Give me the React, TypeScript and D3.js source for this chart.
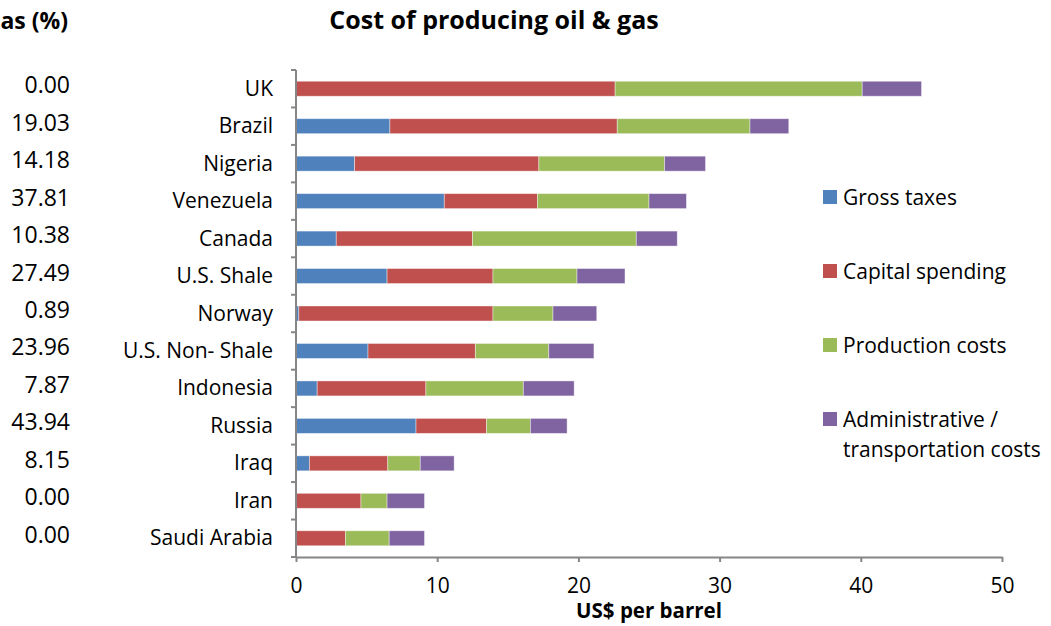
import React, { useEffect, useRef } from 'react';
import * as d3 from 'd3';

const width = 1051;
const height = 626;

const countries = [
  'UK',
  'Brazil',
  'Nigeria',
  'Venezuela',
  'Canada',
  'U.S. Shale',
  'Norway',
  'U.S. Non- Shale',
  'Indonesia',
  'Russia',
  'Iraq',
  'Iran',
  'Saudi Arabia',
];
const taxShare = [0.0, 19.03, 14.18, 37.81, 10.38, 27.49, 0.89, 23.96, 7.87, 43.94, 8.15, 0.0, 0.0];

const grossTaxes = [0, 6.65, 4.15, 10.5, 2.85, 6.45, 0.2, 5.1, 1.5, 8.5, 0.95, 0, 0];
const capitalSpending = [22.6, 16.1, 13.05, 6.6, 9.65, 7.5, 13.75, 7.6, 7.7, 5.0, 5.55, 4.6, 3.5];
const productionCosts = [17.5, 9.4, 8.9, 7.9, 11.6, 5.95, 4.25, 5.2, 6.9, 3.1, 2.3, 1.85, 3.1];
const adminTransport = [4.2, 2.75, 2.9, 2.65, 2.9, 3.4, 3.1, 3.2, 3.6, 2.6, 2.4, 2.65, 2.5];

const seriesNames = ['Gross taxes', 'Capital spending', 'Production costs', 'Administrative / transportation costs'];
const seriesColors = ['#4F81BD', '#C0504D', '#9BBB59', '#8064A2'];
const xTicks = [0, 10, 20, 30, 40, 50];

const font = '"Open Sans", "DejaVu Sans", sans-serif';
const margin = { left: 296, right: 49, top: 70, bottom: 69 };

export default function App() {
  const barsRef = useRef(null);
  const xAxisRef = useRef(null);
  const yAxisRef = useRef(null);

  const x = d3.scaleLinear().domain([0, 50]).range([margin.left, width - margin.right]);
  const y = d3
    .scaleBand()
    .domain(countries)
    .range([margin.top, height - margin.bottom])
    .paddingInner(0.6)
    .paddingOuter(0.3);

  const rows = countries.map((c, i) => ({
    country: c,
    'Gross taxes': grossTaxes[i],
    'Capital spending': capitalSpending[i],
    'Production costs': productionCosts[i],
    'Administrative / transportation costs': adminTransport[i],
  }));

  useEffect(() => {
    const stack = d3.stack<any>().keys(seriesNames)(rows);
    const g = d3.select(barsRef.current);
    g.selectAll('*').remove();
    g.selectAll('g')
      .data(stack)
      .join('g')
      .attr('fill', (d, i) => seriesColors[i])
      .selectAll('rect')
      .data((d) => d.filter((s) => s[1] - s[0] > 0))
      .join('rect')
      .attr('x', (d) => x(d[0]))
      .attr('y', (d) => y(d.data.country))
      .attr('width', (d) => x(d[1]) - x(d[0]))
      .attr('height', y.bandwidth())
      .attr('stroke', '#ffffff')
      .attr('stroke-opacity', 0.5)
      .attr('stroke-width', 0.8);

    // x axis
    const xg = d3.select(xAxisRef.current);
    xg.selectAll('*').remove();
    xg.call(d3.axisBottom(x).tickValues(xTicks).tickSize(5).tickPadding(16).tickSizeOuter(0))
      .call((a) => a.select('.domain').attr('stroke', '#868686').attr('stroke-width', 2))
      .call((a) => a.selectAll('.tick line').attr('stroke', '#868686').attr('stroke-width', 2))
      .call((a) =>
        a.selectAll('.tick text').attr('font-size', 21).attr('font-family', font).attr('fill', '#000')
      );

    // y axis: line and ticks on category boundaries
    const step = y.step();
    const bounds = countries.map((c) => (y(c) as number) - (step - y.bandwidth()) / 2);
    bounds.push(bounds[bounds.length - 1] + step);
    const yg = d3.select(yAxisRef.current);
    yg.selectAll('*').remove();
    yg.append('line')
      .attr('x1', margin.left)
      .attr('x2', margin.left)
      .attr('y1', margin.top)
      .attr('y2', height - margin.bottom)
      .attr('stroke', '#868686')
      .attr('stroke-width', 2);
    yg.selectAll('.tk')
      .data(bounds)
      .join('line')
      .attr('class', 'tk')
      .attr('x1', margin.left - 5)
      .attr('x2', margin.left)
      .attr('y1', (d) => d)
      .attr('y2', (d) => d)
      .attr('stroke', '#868686')
      .attr('stroke-width', 2);
  }, []);

  const center = (c: string) => (y(c) as number) + y.bandwidth() / 2;
  const legendY = [197, 271, 345, 419];

  return (
    <div style={{ position: 'absolute', left: 0, top: 0 }}>
      <svg width={width} height={height} style={{ display: 'block', background: '#fff' }}>
        <text x={68} y={29} textAnchor="end" fontFamily={font} fontWeight="bold" fontSize={23}>
          as (%)
        </text>
        <text x={494} y={29} textAnchor="middle" fontFamily={font} fontWeight="bold" fontSize={25}>
          Cost of producing oil &amp; gas
        </text>

        {countries.map((c, i) => (
          <g key={c} fontFamily={font}>
            <text x={70} y={center(c) + 4.5} textAnchor="end" fontSize={23}>
              {taxShare[i].toFixed(2)}
            </text>
            <text x={273} y={center(c) + 7} textAnchor="end" fontSize={21}>
              {c}
            </text>
          </g>
        ))}

        <g ref={barsRef}></g>
        <g ref={yAxisRef}></g>
        <g ref={xAxisRef} transform={`translate(0,${height - margin.bottom})`}></g>

        <text x={x(25)} y={618} textAnchor="middle" fontFamily={font} fontWeight="bold" fontSize={20.5}>
          US$ per barrel
        </text>

        {seriesNames.map((s, i) => (
          <g key={s} fontFamily={font} fontSize={21}>
            <rect x={823} y={legendY[i] - 7} width={14} height={14} fill={seriesColors[i]} />
            {i < 3 ? (
              <text x={843} y={legendY[i] + 7.5}>
                {s}
              </text>
            ) : (
              <text x={843} y={legendY[i] + 7.5}>
                <tspan x={843}>Administrative /</tspan>
                <tspan x={843} dy={30}>
                  transportation costs
                </tspan>
              </text>
            )}
          </g>
        ))}
      </svg>
    </div>
  );
}
